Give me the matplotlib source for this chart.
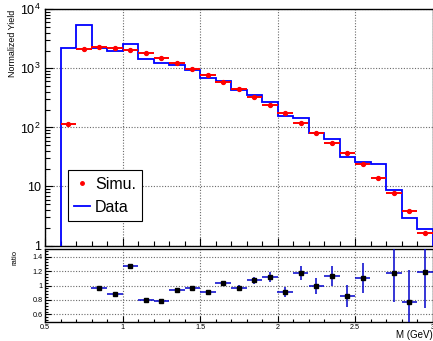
import matplotlib
matplotlib.use('Agg')
import matplotlib.pyplot as plt
from matplotlib.ticker import MultipleLocator, FixedLocator, FixedFormatter, LogLocator, NullFormatter
from matplotlib.lines import Line2D

plt.rcParams['font.family'] = ['Liberation Sans', 'DejaVu Sans']
plt.rcParams['mathtext.fontset'] = 'custom'
plt.rcParams['mathtext.rm'] = 'Liberation Sans'
plt.rcParams['mathtext.it'] = 'Liberation Sans:italic'
plt.rcParams['mathtext.bf'] = 'Liberation Sans:bold'

# ---- data ----
bin_edges = [0.6, 0.7, 0.8, 0.9, 1.0, 1.1, 1.2, 1.3, 1.4, 1.5, 1.6, 1.7, 1.8,
             1.9, 2.0, 2.1, 2.2, 2.3, 2.4, 2.5, 2.6, 2.7, 2.8, 2.9, 3.0]
bin_centers = [0.65, 0.75, 0.85, 0.95, 1.05, 1.15, 1.25, 1.35, 1.45, 1.55, 1.65, 1.75,
               1.85, 1.95, 2.05, 2.15, 2.25, 2.35, 2.45, 2.55, 2.65, 2.75, 2.85, 2.95]
data_vals = [2240, 5350, 2250, 1990, 2610, 1440, 1215, 1125, 935, 693, 604, 433,
             348, 265, 157, 142, 81, 62.7, 31, 26.1, 23.6, 8.75, 2.93, 1.94]
simu_vals = [114, 2150, 2295, 2250, 2020, 1795, 1515, 1230, 973, 760, 593, 440,
             327, 239, 173, 120, 81, 54.8, 36.2, 23.9, 14.0, 7.6, 3.87, 1.64]

ratio_x = [0.85, 0.95, 1.05, 1.15, 1.25, 1.35, 1.45, 1.55, 1.65, 1.75, 1.85,
           1.95, 2.05, 2.15, 2.25, 2.35, 2.45, 2.55, 2.75, 2.85, 2.95]
ratio_vals = [0.972, 0.885, 1.27, 0.797, 0.79, 0.936, 0.964, 0.913, 1.028, 0.972, 1.07,
              1.12, 0.908, 1.176, 0.996, 1.135, 0.857, 1.107, 1.167, 0.77, 1.19]
ratio_err = [0.01, 0.01, 0.012, 0.01, 0.01, 0.012, 0.012, 0.015, 0.025, 0.04, 0.05,
             0.07, 0.07, 0.10, 0.11, 0.14, 0.15, 0.21, 0.39, 0.44, 0.5]
half_width = 0.05

main_yticks = [1, 10, 100, 1000, 10000]
main_ylabels = ['1', '10', '$10^{2}$', '$10^{3}$', '$10^{4}$']
ratio_yticks = [0.6, 0.8, 1.0, 1.2, 1.4]
ratio_ylabels = ['0.6', '0.8', '1', '1.2', '1.4']
xticks = [0.5, 1.0, 1.5, 2.0, 2.5, 3.0]
xlabels = ['0.5', '1', '1.5', '2', '2.5', '3']

W, H = 433, 341
fig = plt.figure(figsize=(W / 100, H / 100), dpi=100)

grid_kw = dict(color='#6a6a6a', lw=0.8, ls=(0, (1, 1.5)))

# ---- main panel ----
ax = fig.add_axes([45 / W, 1 - 245.5 / H, 387.5 / W, 236.2 / H])
ax.set_yscale('log')
ax.set_xlim(0.5, 3.0)
ax.set_ylim(1, 1e4)
ax.stairs(data_vals, bin_edges, baseline=1, color='#0000ff', lw=1.3, zorder=3)
ax.errorbar(bin_centers, simu_vals, xerr=half_width, fmt='o', color='#ff0000',
            ms=2.8, elinewidth=1.4, capsize=0, zorder=4)
ax.yaxis.set_major_locator(FixedLocator(main_yticks))
ax.yaxis.set_major_formatter(FixedFormatter(main_ylabels))
ax.yaxis.set_minor_locator(LogLocator(base=10, subs=range(2, 10)))
ax.yaxis.set_minor_formatter(NullFormatter())
ax.xaxis.set_major_locator(MultipleLocator(0.5))
ax.xaxis.set_minor_locator(MultipleLocator(0.1))
ax.tick_params(axis='x', labelbottom=False)
ax.tick_params(which='both', direction='in', top=False, right=False)
ax.tick_params(which='major', length=6, width=0.8)
ax.tick_params(which='minor', length=3.5, width=0.8)
ax.tick_params(axis='y', labelsize=9, pad=3)
ax.grid(True, which='major', **grid_kw)
for s in ax.spines.values():
    s.set_linewidth(1.0)

handles = [Line2D([], [], marker='o', color='#ff0000', ls='none', ms=2.5),
           Line2D([], [], color='#0000ff', lw=1.3)]
leg = ax.legend(handles, ['Simu.', 'Data'], loc='lower left',
                bbox_to_anchor=(0.0586, 0.1037), fontsize=11.5, frameon=True,
                fancybox=False, edgecolor='black', framealpha=1,
                handlelength=1.0, handletextpad=0.3, borderpad=0.4,
                labelspacing=0.5, borderaxespad=0)
leg.get_frame().set_linewidth(0.8)

fig.text(13 / W, 1 - 10 / H, 'Normalized Yield', rotation=90, ha='center',
         va='top', fontsize=6.4)

# ---- ratio panel ----
rx = fig.add_axes([45 / W, 1 - 321.7 / H, 387.5 / W, 72.4 / H])
rx.set_xlim(0.5, 3.0)
rx.set_ylim(0.5, 1.5)
rx.errorbar(ratio_x, ratio_vals, xerr=half_width, yerr=ratio_err, fmt='s',
            mfc='black', mec='black', ms=2.6, ecolor='#0000cc', elinewidth=1.1,
            capsize=0, zorder=4)
rx.yaxis.set_major_locator(FixedLocator(ratio_yticks))
rx.yaxis.set_major_formatter(FixedFormatter(ratio_ylabels))
rx.yaxis.set_minor_locator(MultipleLocator(0.04))
rx.xaxis.set_major_locator(FixedLocator(xticks))
rx.xaxis.set_major_formatter(FixedFormatter(xlabels))
rx.xaxis.set_minor_locator(MultipleLocator(0.1))
rx.tick_params(which='both', direction='in', top=False, right=False)
rx.tick_params(which='major', length=4, width=0.8, labelsize=5.2, pad=1.5)
rx.tick_params(which='minor', length=2.5, width=0.8)
rx.grid(True, which='major', **grid_kw)
for s in rx.spines.values():
    s.set_linewidth(1.0)

fig.text(15 / W, 1 - 250 / H, 'ratio', rotation=90, ha='center', va='top',
         fontsize=5.5)
fig.text(1.0, 1 - 335.5 / H, 'M (GeV)', ha='right', va='center', fontsize=7)

fig.savefig('out.png', dpi=100)
